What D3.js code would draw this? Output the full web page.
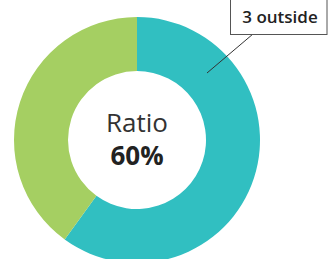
<!DOCTYPE html>
<html>
<head>
<meta charset="utf-8">
<script src="https://cdn.jsdelivr.net/npm/d3@7"></script>
<style>
  body { margin: 0; background: #fff; }
  svg { display: block; }
</style>
</head>
<body>
<svg id="drawing_region"></svg>
<script>
var labels = ['Inside', 'Outside'];
var values = [60, 40];
var colors = ['#31bfc1', '#a5cf62'];
var centerTitle = 'Ratio';
var centerValue = '60%';
var callout = '3 outside';

var width = 328;
var height = 259;
var cx = 137, cy = 140;
var outer_r = 123, inner_r = 69;

var svg = d3.select('#drawing_region')
    .attr('width', width)
    .attr('height', height);

var chart = svg.append('g')
    .attr('transform', `translate(${cx}, ${cy})`);

const pie = d3.pie()
      .sort(null)
      .value( d => d );
const arc = d3.arc()
      .innerRadius(inner_r)
      .outerRadius(outer_r);

chart.selectAll('path')
    .data(pie(values))
    .join('path')
    .attr('d', arc)
    .attr('fill', (d, i) => colors[i]);

// centre text
chart.append('text')
    .attr('x', 0)
    .attr('y', -8)
    .attr('text-anchor', 'middle')
    .attr('font-family', 'Open Sans')
    .attr('font-size', 26)
    .attr('fill', '#333')
    .text(centerTitle);
chart.append('text')
    .attr('x', 0)
    .attr('y', 25)
    .attr('text-anchor', 'middle')
    .attr('font-family', 'Open Sans')
    .attr('font-weight', 'bold')
    .attr('font-size', 26)
    .attr('fill', '#222')
    .text(centerValue);

// callout box with leader line into the teal slice
svg.append('line')
    .attr('x1', 253).attr('y1', 34)
    .attr('x2', 207).attr('y2', 73)
    .attr('stroke', '#333')
    .attr('stroke-width', 1);
svg.append('rect')
    .attr('x', 230.5).attr('y', -1)
    .attr('width', 96.5).attr('height', 35.5)
    .attr('fill', '#fff')
    .attr('stroke', '#555')
    .attr('stroke-width', 1);
svg.append('text')
    .attr('x', 280)
    .attr('y', 23)
    .attr('text-anchor', 'middle')
    .attr('font-family', 'Open Sans')
    .attr('font-weight', 600)
    .attr('font-size', 17)
    .attr('fill', '#222')
    .text(callout);
</script>
</body>
</html>
